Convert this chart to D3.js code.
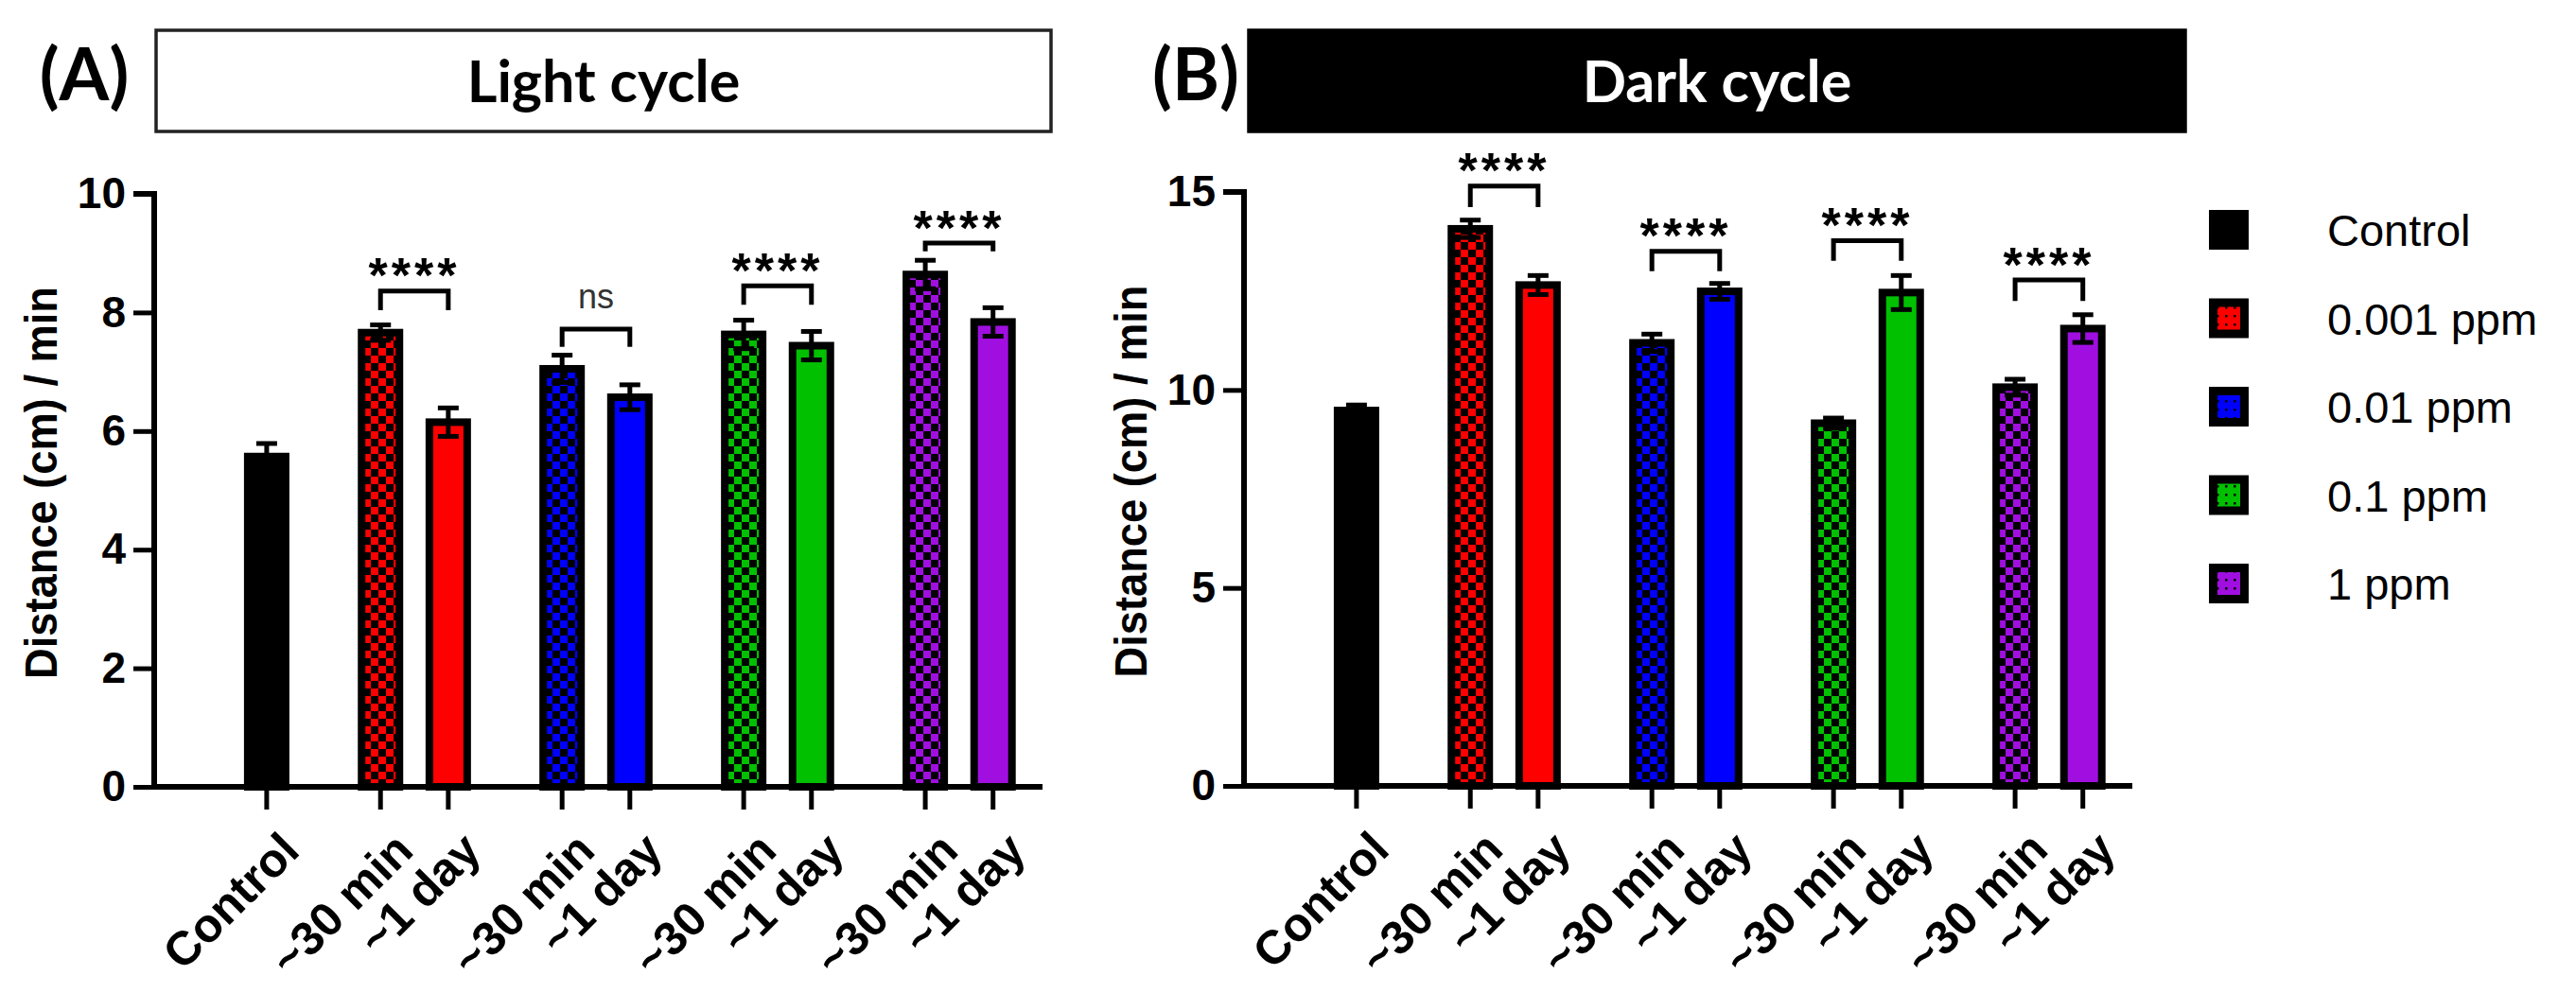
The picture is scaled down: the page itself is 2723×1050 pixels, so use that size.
<!DOCTYPE html>
<html>
<head>
<meta charset="utf-8">
<script src="https://cdn.jsdelivr.net/npm/d3@7"></script>
<style>
  html, body { margin: 0; padding: 0; background: #fff; }
  svg { display: block; }
</style>
</head>
<body>
<svg id="chart" width="2723" height="1050"></svg>
<script>
// ---------------- DATA ----------------
const groupNames   = ["Control", "0.001 ppm", "0.01 ppm", "0.1 ppm", "1 ppm"];
const groupColors  = ["#000000", "#FF0000", "#0000FF", "#00C000", "#A00FE0"];
const barLabels    = ["Control", "~30 min", "~1 day", "~30 min", "~1 day", "~30 min", "~1 day", "~30 min", "~1 day"];
const barGroup     = [0, 1, 1, 2, 2, 3, 3, 4, 4];
const barTime      = ["control", "30min", "1day", "30min", "1day", "30min", "1day", "30min", "1day"];

const lightMeans   = [5.57, 7.66, 6.15, 7.05, 6.57, 7.63, 7.44, 8.64, 7.84];
const lightSEM     = [0.22, 0.13, 0.24, 0.23, 0.21, 0.24, 0.24, 0.24, 0.24];
const darkMeans    = [9.48, 14.07, 12.65, 11.19, 12.49, 9.16, 12.46, 10.07, 11.55];
const darkSEM      = [0.14, 0.22, 0.24, 0.22, 0.20, 0.13, 0.43, 0.20, 0.35];

const lightTicks   = [0, 2, 4, 6, 8, 10];
const darkTicks    = [0, 5, 10, 15];

const bracketPairs     = [[1, 2], [3, 4], [5, 6], [7, 8]];
const lightBracketTop  = [8.36, 7.72, 8.45, 9.17];
const lightBracketLeg  = [8.04, 7.42, 8.13, 9.03];
const lightSig         = ["****", "ns", "****", "****"];
const darkBracketTop   = [15.15, 13.50, 13.77, 12.78];
const darkBracketLeg   = [14.62, 13.00, 13.26, 12.25];
const darkSig          = ["****", "****", "****", "****"];

const panelLetters = ["(A)", "(B)"];
const panelTitles  = ["Light cycle", "Dark cycle"];
const yTitle       = "Distance (cm) / min";

// ---------------- DRAWING ----------------
const svg = d3.select("#chart");
const defs = svg.append("defs");
const AX = "Liberation Sans, Arial, Helvetica, sans-serif";
const CAL = "Lato, 'Open Sans', sans-serif";

// checker patterns for ~30 min bars
const cell = 8;
groupColors.forEach((c, i) => {
  const p = defs.append("pattern").attr("id", "chk" + i)
    .attr("patternUnits", "userSpaceOnUse").attr("width", cell * 2).attr("height", cell * 2);
  p.append("rect").attr("width", cell * 2).attr("height", cell * 2).attr("fill", "#000");
  p.append("rect").attr("x", 0).attr("y", 0).attr("width", cell).attr("height", cell).attr("fill", c);
  p.append("rect").attr("x", cell).attr("y", cell).attr("width", cell).attr("height", cell).attr("fill", c);
  const q = defs.append("pattern").attr("id", "leg" + i)
    .attr("patternUnits", "userSpaceOnUse").attr("width", 9).attr("height", 9);
  q.append("rect").attr("width", 9).attr("height", 9).attr("fill", c);
  q.append("rect").attr("x", 3).attr("y", 0).attr("width", 2.5).attr("height", 2.5).attr("fill", "#000");
});

// slot positions (bar layout: gap between groups larger than within groups)
const slots = [];
{
  let pos = 0;
  barGroup.forEach((g, i) => {
    if (i > 0) pos += (g === barGroup[i - 1]) ? 1 : 1.68;
    slots.push(pos);
  });
}

function drawPanel(cfg) {
  const g = svg.append("g");
  const x = d3.scaleLinear().domain([-1.66, 11.45]).range([cfg.x0, cfg.x0 + 939]);
  const y = d3.scaleLinear().domain([0, cfg.ymax]).range([cfg.y0, cfg.y1]);
  const bw = 40;

  // title box
  g.append("rect").attr("x", cfg.boxX).attr("y", 32).attr("width", cfg.boxW).attr("height", 107)
    .attr("fill", cfg.dark ? "#000" : "#fff").attr("stroke", cfg.dark ? "#000" : "#222").attr("stroke-width", 3.5);
  g.append("text").attr("x", cfg.boxX + cfg.boxW / 2).attr("y", 108)
    .attr("text-anchor", "middle").attr("font-family", CAL).attr("font-weight", 700)
    .attr("font-size", 61).attr("fill", cfg.dark ? "#fff" : "#000").text(cfg.title);
  g.append("text").attr("x", cfg.letterX).attr("y", 106)
    .attr("text-anchor", "middle").attr("font-family", CAL).attr("font-weight", 700)
    .attr("font-size", 76).attr("fill", "#000").text(cfg.letter);

  // bars
  const data = cfg.means.map((m, i) => ({ m, e: cfg.sem[i], i }));
  g.selectAll(".bar").data(data).enter().append("rect")
    .attr("x", d => x(slots[d.i]) - bw / 2)
    .attr("y", d => y(d.m))
    .attr("width", bw)
    .attr("height", d => y(0) - y(d.m))
    .attr("fill", d => barTime[d.i] === "30min" ? `url(#chk${barGroup[d.i]})` : groupColors[barGroup[d.i]])
    .attr("stroke", "#000").attr("stroke-width", 8);

  // error bars
  const eb = g.selectAll(".eb").data(data).enter().append("g").attr("stroke", "#000").attr("stroke-width", 5);
  eb.append("line").attr("x1", d => x(slots[d.i])).attr("x2", d => x(slots[d.i]))
    .attr("y1", d => y(d.m - d.e)).attr("y2", d => y(d.m + d.e));
  eb.append("line").attr("x1", d => x(slots[d.i]) - 11).attr("x2", d => x(slots[d.i]) + 11)
    .attr("y1", d => y(d.m + d.e)).attr("y2", d => y(d.m + d.e));
  eb.append("line").attr("x1", d => x(slots[d.i]) - 11).attr("x2", d => x(slots[d.i]) + 11)
    .attr("y1", d => y(d.m - d.e)).attr("y2", d => y(d.m - d.e));

  // y axis
  const yAxis = d3.axisLeft(y).tickValues(cfg.ticks).tickSize(22).tickPadding(8).tickFormat(d3.format("d"));
  const ya = g.append("g").attr("transform", `translate(${cfg.x0},0)`).call(yAxis);
  ya.select(".domain").attr("stroke-width", 6).attr("d", `M-22,${cfg.y1}H0V${cfg.y0}`);
  ya.selectAll(".tick line").attr("stroke-width", 5);
  ya.selectAll(".tick text").attr("font-family", AX).attr("font-weight", 700).attr("font-size", 46).attr("fill", "#000");

  // x axis
  const xa = g.append("g").attr("transform", `translate(0,${cfg.y0})`);
  xa.append("line").attr("x1", cfg.x0 - 3).attr("x2", cfg.x0 + 939).attr("y1", 0).attr("y2", 0)
    .attr("stroke", "#000").attr("stroke-width", 6);
  xa.selectAll(".xt").data(slots).enter().append("line")
    .attr("x1", d => x(d)).attr("x2", d => x(d)).attr("y1", 0).attr("y2", 24)
    .attr("stroke", "#000").attr("stroke-width", 5);
  xa.selectAll(".xl").data(barLabels).enter().append("text")
    .attr("transform", (d, i) => `translate(${x(slots[i]) + 37},70) rotate(-45)`)
    .attr("text-anchor", "end").attr("font-family", AX).attr("font-weight", 700)
    .attr("font-size", 50).attr("fill", "#000").text(d => d);

  // y title
  g.append("text").attr("transform", `translate(${cfg.titleX},${(cfg.y0 + cfg.y1) / 2 - 8}) rotate(-90)`)
    .attr("text-anchor", "middle").attr("font-family", AX).attr("font-weight", 700)
    .attr("font-size", 49).attr("textLength", 415).attr("lengthAdjust", "spacingAndGlyphs")
    .attr("fill", "#000").text(yTitle);

  // significance brackets
  bracketPairs.forEach((pr, k) => {
    const xa1 = x(slots[pr[0]]), xa2 = x(slots[pr[1]]);
    const yt = y(cfg.bTop[k]), yl = y(cfg.bLeg[k]);
    g.append("path").attr("d", `M${xa1},${yl}V${yt}H${xa2}V${yl}`)
      .attr("fill", "none").attr("stroke", "#000").attr("stroke-width", 5);
    const ns = cfg.sig[k] === "ns";
    const fs = ns ? 36 : 52;
    const cy = yt - (ns ? 31 : 28);
    g.append("text").attr("x", (xa1 + xa2) / 2)
      .attr("y", ns ? cy + 0.26 * fs : cy + 0.57 * fs)
      .attr("text-anchor", "middle").attr("font-family", AX)
      .attr("font-weight", ns ? 400 : 700).attr("font-size", fs)
      .attr("letter-spacing", ns ? 0 : 4)
      .attr("fill", ns ? "#333" : "#000").text(cfg.sig[k]);
  });
}

drawPanel({ x0: 163, y0: 832, y1: 205, ymax: 10, ticks: lightTicks, means: lightMeans, sem: lightSEM,
  bTop: lightBracketTop, bLeg: lightBracketLeg, sig: lightSig, title: panelTitles[0], letter: panelLetters[0],
  boxX: 165, boxW: 946, letterX: 89, titleX: 60, dark: false });
drawPanel({ x0: 1315, y0: 831, y1: 203, ymax: 15, ticks: darkTicks, means: darkMeans, sem: darkSEM,
  bTop: darkBracketTop, bLeg: darkBracketLeg, sig: darkSig, title: panelTitles[1], letter: panelLetters[1],
  boxX: 1320, boxW: 990, letterX: 1264, titleX: 1212, dark: true });

// legend
const leg = svg.append("g");
const legY = d3.scaleLinear().domain([0, 4]).range([243, 617]);
groupNames.forEach((name, i) => {
  leg.append("rect").attr("x", 2335).attr("y", legY(i) - 21).attr("width", 42).attr("height", 42).attr("fill", "#000");
  if (i > 0) leg.append("rect").attr("x", 2344).attr("y", legY(i) - 12).attr("width", 24).attr("height", 24)
    .attr("fill", `url(#leg${i})`);
  leg.append("text").attr("x", 2460).attr("y", legY(i) + 17).attr("font-family", AX)
    .attr("font-size", 47).attr("fill", "#000").text(name);
});
</script>
</body>
</html>
